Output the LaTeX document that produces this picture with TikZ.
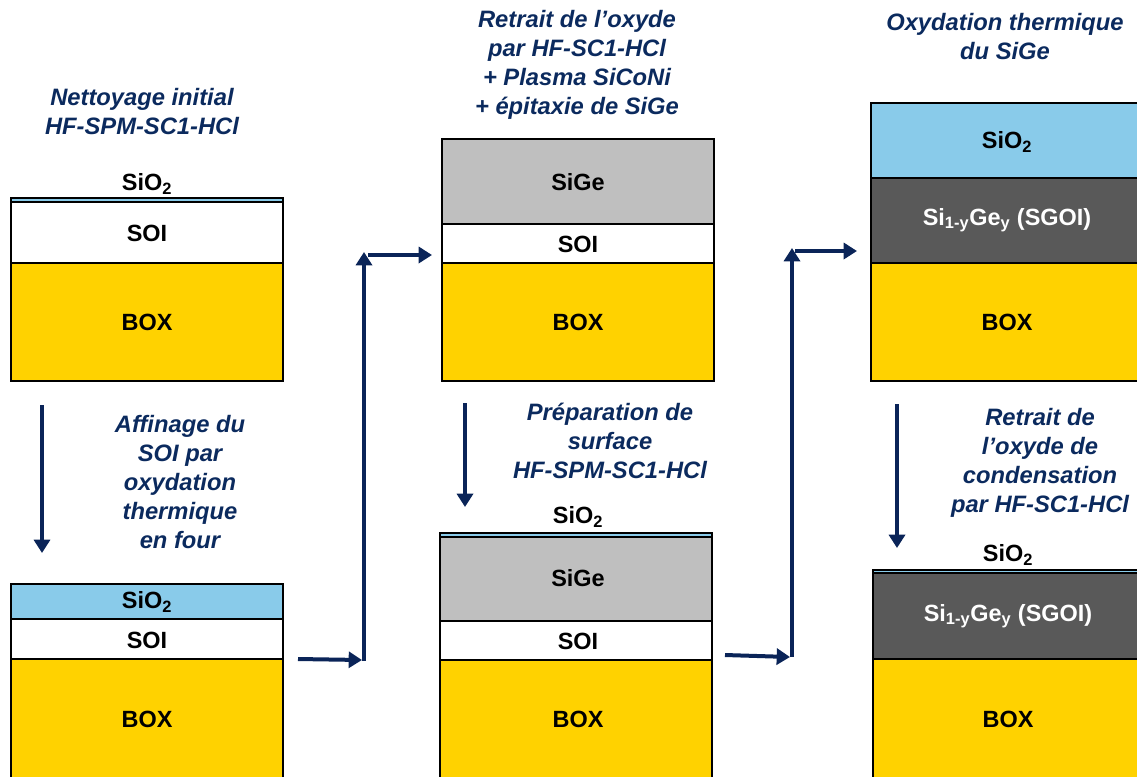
\documentclass[tikz,border=0pt]{standalone}
\usepackage{fontspec}
\setmainfont{Liberation Sans}
\usetikzlibrary{arrows.meta}
\definecolor{navy}{HTML}{0B2A5E}
\definecolor{arrowc}{HTML}{0A2458}
\definecolor{boxy}{HTML}{FFD200}
\definecolor{oxb}{HTML}{89CBEA}
\definecolor{sige}{HTML}{BFBFBF}
\definecolor{sgoi}{HTML}{595959}
\tikzset{
  lay/.style={draw=black, line width=1.2pt},
  lab/.style={font=\fontsize{17.6}{20}\selectfont\bfseries, text=black, inner sep=0pt},
  wlab/.style={lab, text=white},
  ttl/.style={font=\fontsize{17.8}{21.75}\selectfont\bfseries\itshape, text=navy, align=center, inner sep=0pt},
  arr/.style={draw=arrowc, line width=3pt, -{Triangle[length=10pt,width=12pt]}}
}
\begin{document}
\begin{tikzpicture}[x=0.75pt,y=-0.75pt]
\useasboundingbox (0,0) rectangle (1137,776);
% ---------- Column A, top
\path[lay, fill=oxb] (11,198) rectangle (283,202);
\path[lay, fill=white] (11,202) rectangle (283,263);
\path[lay, fill=boxy] (11,263) rectangle (283,381);
\node[lab] (a1ox) at (147,184) {SiO\textsubscript{2}};
\node[lab] (a1soi) at (147,233) {SOI};
\node[lab] (a1box) at (147,322) {BOX};
% ---------- Column A, bottom
\path[lay, fill=oxb] (11,584) rectangle (283,619);
\path[lay, fill=white] (11,619) rectangle (283,659);
\path[lay, fill=boxy] (11,659) rectangle (283,795);
\node[lab] (a2ox) at (147,602) {SiO\textsubscript{2}};
\node[lab] (a2soi) at (147,640) {SOI};
\node[lab] (a2box) at (147,719) {BOX};
% ---------- Column B, top
\path[lay, fill=sige] (442,139) rectangle (714,224);
\path[lay, fill=white] (442,224) rectangle (714,263);
\path[lay, fill=boxy] (442,263) rectangle (714,381);
\node[lab] (b1sige) at (578,182) {SiGe};
\node[lab] (b1soi) at (578,244) {SOI};
\node[lab] (b1box) at (578,322) {BOX};
% ---------- Column B, bottom
\path[lay, fill=oxb] (440,533) rectangle (712,537);
\path[lay, fill=sige] (440,537) rectangle (712,621);
\path[lay, fill=white] (440,621) rectangle (712,660);
\path[lay, fill=boxy] (440,660) rectangle (712,795);
\node[lab] (b2ox) at (578,517) {SiO\textsubscript{2}};
\node[lab] (b2sige) at (578,578) {SiGe};
\node[lab] (b2soi) at (578,641) {SOI};
\node[lab] (b2box) at (578,719) {BOX};
% ---------- Column C, top
\path[lay, fill=oxb] (871,103) rectangle (1145,178);
\path[lay, fill=sgoi] (871,178) rectangle (1145,263);
\path[lay, fill=boxy] (871,263) rectangle (1145,381);
\node[lab] (c1ox) at (1007,142) {SiO\textsubscript{2}};
\node[wlab] (c1sg) at (1007,220) {Si\textsubscript{1-y}Ge\textsubscript{y} (SGOI)};
\node[lab] (c1box) at (1007,322) {BOX};
% ---------- Column C, bottom
\path[lay, fill=oxb] (873,570) rectangle (1147,573);
\path[lay, fill=sgoi] (873,573) rectangle (1147,659);
\path[lay, fill=boxy] (873,659) rectangle (1147,795);
\node[lab] (c2ox) at (1008,555) {SiO\textsubscript{2}};
\node[wlab] (c2sg) at (1008,616) {Si\textsubscript{1-y}Ge\textsubscript{y} (SGOI)};
\node[lab] (c2box) at (1008,719) {BOX};
% ---------- Titles
\node[ttl] (t1) at (142,112) {Nettoyage initial\\HF-SPM-SC1-HCl};
\node[ttl] (t2) at (180,482) {Affinage du\\SOI par\\oxydation\\thermique\\en four};
\node[ttl] (t3) at (577,65) {Retrait de l’oxyde\\par HF-SC1-HCl\\+ Plasma SiCoNi\\+ épitaxie de SiGe};
\node[ttl] (t4) at (610,441) {Préparation de\\surface\\HF-SPM-SC1-HCl};
\node[ttl] (t5) at (1005,37) {Oxydation thermique\\du SiGe};
\node[ttl] (t6) at (1040,463) {Retrait de\\l’oxyde de\\condensation\\par HF-SC1-HCl};
% ---------- Arrow coordinates
\coordinate (d1s) at (42,405);  \coordinate (d1e) at (42,553);
\coordinate (d2s) at (465,403); \coordinate (d2e) at (465,507);
\coordinate (d3s) at (897,404); \coordinate (d3e) at (897,548);
\coordinate (p1a) at (298,659); \coordinate (p1b) at (362,660);
\coordinate (p1c) at (364,661); \coordinate (p1d) at (364,252);
\coordinate (p1e) at (368,255); \coordinate (p1f) at (432,255);
\coordinate (p2a) at (725,655); \coordinate (p2b) at (790,657);
\coordinate (p2c) at (792,657); \coordinate (p2d) at (792,248);
\coordinate (p2e) at (795,251); \coordinate (p2f) at (857,251);
% ---------- Arrows
\draw[arr] (d1s) -- (d1e);
\draw[arr] (d2s) -- (d2e);
\draw[arr] (d3s) -- (d3e);
\draw[arr] (p1a) -- (p1b);
\draw[arr] (p1c) -- (p1d);
\draw[arr] (p1e) -- (p1f);
\draw[arr] (p2a) -- (p2b);
\draw[arr] (p2c) -- (p2d);
\draw[arr] (p2e) -- (p2f);
\end{tikzpicture}
\end{document}
